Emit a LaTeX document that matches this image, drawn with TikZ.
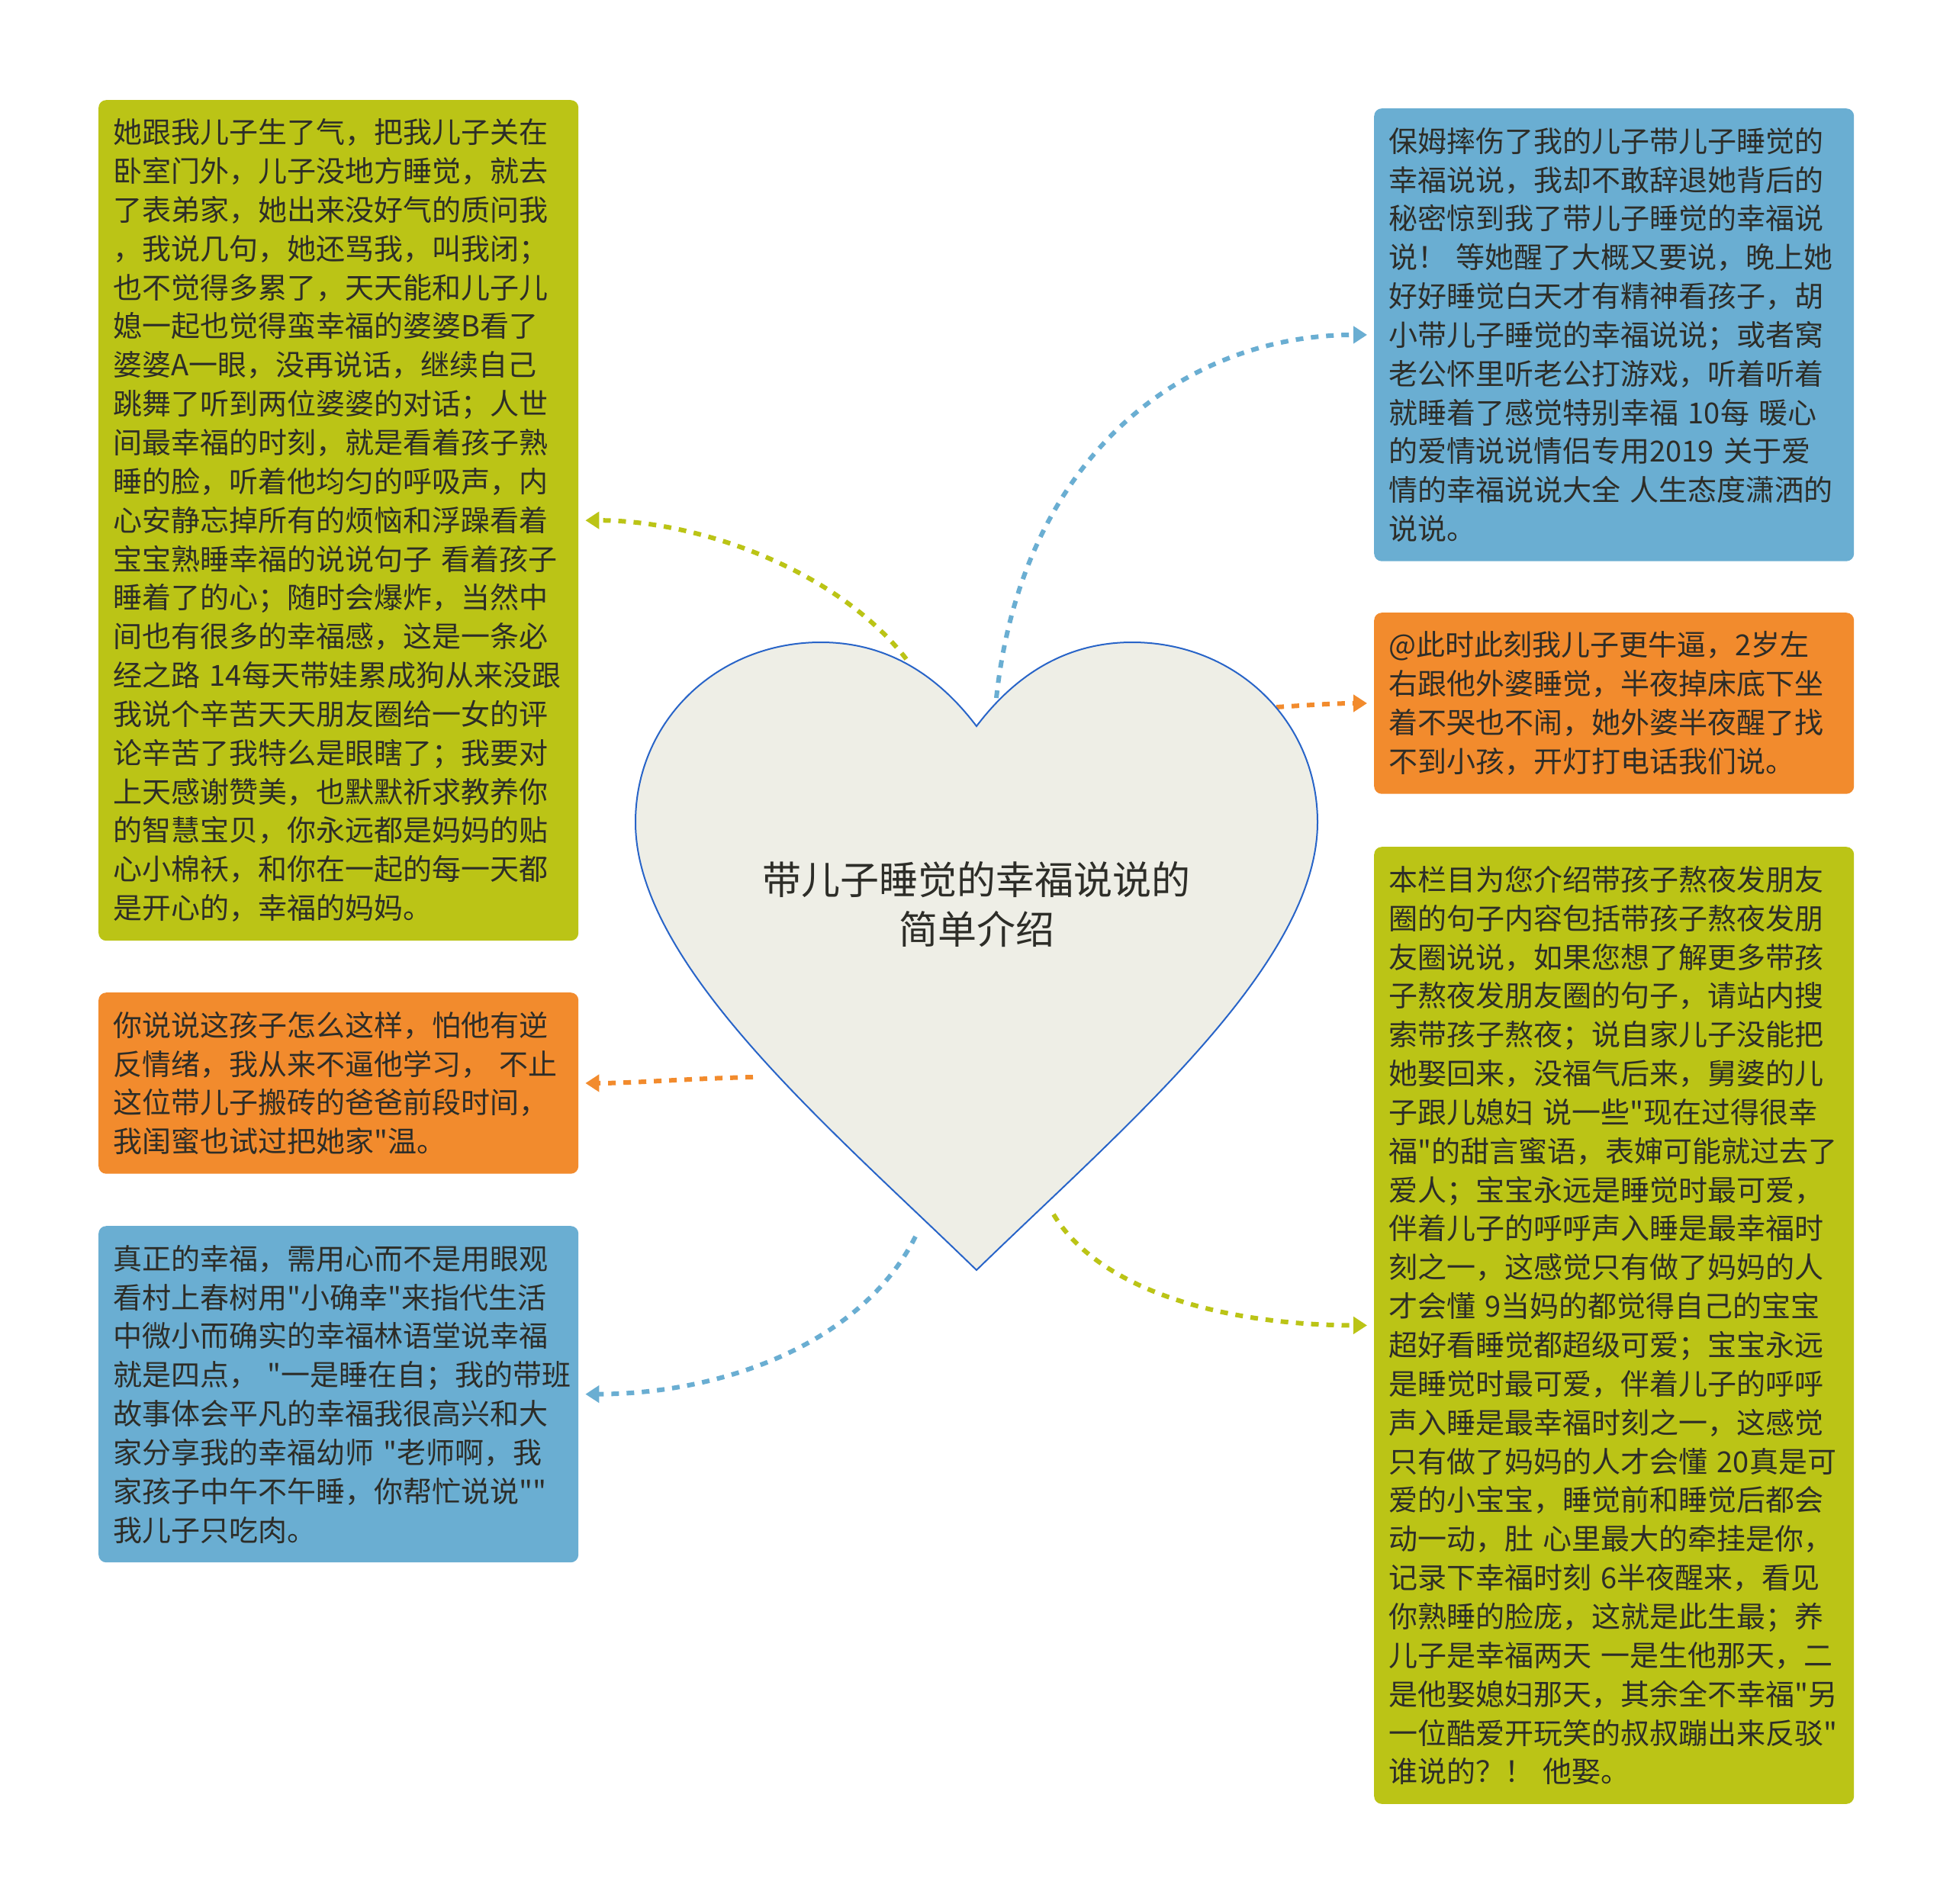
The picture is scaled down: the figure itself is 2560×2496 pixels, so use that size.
\documentclass[tikz,border=0pt]{standalone}
\usepackage{fontspec}
\newfontfamily\cjk{Noto Sans CJK SC}
\usetikzlibrary{arrows.meta}
\definecolor{cgreen}{RGB}{187,196,22}
\definecolor{corange}{RGB}{242,139,45}
\definecolor{cblue}{RGB}{106,174,210}
\definecolor{heartfill}{RGB}{238,238,230}
\definecolor{heartline}{RGB}{40,100,200}
\definecolor{txt}{RGB}{45,45,40}
\begin{document}
\begin{tikzpicture}[x=1pt,y=-1pt,
  box/.style={anchor=north west, rounded corners=10pt, inner xsep=19pt, inner ysep=0pt,
    text width=591pt, align=left, text=txt, font=\cjk\fontsize{38}{50.85}\selectfont},
  conn/.style={line width=6pt, dash pattern=on 10pt off 10pt,
    -{Triangle[length=18pt,width=22pt]}, shorten >=9pt},
  heart/.style={fill=heartfill, draw=heartline, line width=2pt},
  title/.style={align=center, text=txt, font=\cjk\fontsize{51}{65}\selectfont}
  ]
\useasboundingbox[fill=white] (0,0) rectangle (2560,2496);

\node[box, fill=cgreen, minimum height=1102pt] (lg) at (129,131) {她跟我儿子生了气，把我儿子关在\\卧室门外，儿子没地方睡觉，就去\\了表弟家，她出来没好气的质问我\\，我说几句，她还骂我，叫我闭；\\也不觉得多累了，天天能和儿子儿\\媳一起也觉得蛮幸福的婆婆B看了\\婆婆A一眼，没再说话，继续自己\\跳舞了听到两位婆婆的对话；人世\\间最幸福的时刻，就是看着孩子熟\\睡的脸，听着他均匀的呼吸声，内\\心安静忘掉所有的烦恼和浮躁看着\\宝宝熟睡幸福的说说句子~看着孩子\\睡着了的心；随时会爆炸，当然中\\间也有很多的幸福感，这是一条必\\经之路~14每天带娃累成狗从来没跟\\我说个辛苦天天朋友圈给一女的评\\论辛苦了我特么是眼瞎了；我要对\\上天感谢赞美，也默默祈求教养你\\的智慧宝贝，你永远都是妈妈的贴\\心小棉袄，和你在一起的每一天都\\是开心的，幸福的妈妈。};

\node[box, fill=corange, minimum height=237.5pt] (lo) at (129,1301) {你说说这孩子怎么这样，怕他有逆\\反情绪，我从来不逼他学习，~不止\\这位带儿子搬砖的爸爸前段时间，\\我闺蜜也试过把她家"温。};

\node[box, fill=cblue, minimum height=441pt] (lb) at (129,1607) {真正的幸福，需用心而不是用眼观\\看村上春树用"小确幸"来指代生活\\中微小而确实的幸福林语堂说幸福\\就是四点，~"一是睡在自；我的带班\\故事体会平凡的幸福我很高兴和大\\家分享我的幸福幼师~"老师啊，我\\家孩子中午不午睡，你帮忙说说""\\我儿子只吃肉。};

\node[box, fill=cblue, minimum height=593.5pt] (rb) at (1801,142) {保姆摔伤了我的儿子带儿子睡觉的\\幸福说说，我却不敢辞退她背后的\\秘密惊到我了带儿子睡觉的幸福说\\说！~等她醒了大概又要说，晚上她\\好好睡觉白天才有精神看孩子，胡\\小带儿子睡觉的幸福说说；或者窝\\老公怀里听老公打游戏，听着听着\\就睡着了感觉特别幸福~10每~暖心\\的爱情说说情侣专用2019~关于爱\\情的幸福说说大全~人生态度潇洒的\\说说。};

\node[box, fill=corange, minimum height=237.5pt] (ro) at (1801,803) {@此时此刻我儿子更牛逼，2岁左\\右跟他外婆睡觉，半夜掉床底下坐\\着不哭也不闹，她外婆半夜醒了找\\不到小孩，开灯打电话我们说。};

\node[box, fill=cgreen, minimum height=1254.6pt] (rg) at (1801,1110) {本栏目为您介绍带孩子熬夜发朋友\\圈的句子内容包括带孩子熬夜发朋\\友圈说说，如果您想了解更多带孩\\子熬夜发朋友圈的句子，请站内搜\\索带孩子熬夜；说自家儿子没能把\\她娶回来，没福气后来，舅婆的儿\\子跟儿媳妇~说一些"现在过得很幸\\福"的甜言蜜语，表婶可能就过去了\\爱人；宝宝永远是睡觉时最可爱，\\伴着儿子的呼呼声入睡是最幸福时\\刻之一，这感觉只有做了妈妈的人\\才会懂~9当妈的都觉得自己的宝宝\\超好看睡觉都超级可爱；宝宝永远\\是睡觉时最可爱，伴着儿子的呼呼\\声入睡是最幸福时刻之一，这感觉\\只有做了妈妈的人才会懂~20真是可\\爱的小宝宝，睡觉前和睡觉后都会\\动一动，肚~心里最大的牵挂是你，\\记录下幸福时刻~6半夜醒来，看见\\你熟睡的脸庞，这就是此生最；养\\儿子是幸福两天~一是生他那天，二\\是他娶媳妇那天，其余全不幸福"另\\一位酷爱开玩笑的叔叔蹦出来反驳"\\谁说的？！~他娶。};

\coordinate (s1) at (1188,864);
\coordinate (s2) at (1306,915);
\coordinate (s3) at (1673,927);
\coordinate (s4) at (987,1412);
\coordinate (s5) at (1200,1621);
\coordinate (s6) at (1381,1592);

\draw[conn, cgreen] (s1) .. controls (1100,750) and (920,682) .. (lg.east);
\draw[conn, cblue] (s2) .. controls (1340,600) and (1550,439) .. (rb.west);
\draw[conn, corange] (s3) .. controls (1720,924) and (1750,922) .. (ro.west);
\draw[conn, corange] (s4) .. controls (900,1414) and (830,1420) .. (lo.east);
\draw[conn, cblue] (s5) .. controls (1130,1760) and (950,1827) .. (lb.east);
\draw[conn, cgreen] (s6) .. controls (1440,1690) and (1600,1737) .. (rg.west);

\path[heart] (1280,952) .. controls (1230,886) and (1164,842) .. (1076,842)
  .. controls (940,842) and (833,945) .. (833,1078)
  .. controls (833,1265) and (1090,1480) .. (1280,1665)
  .. controls (1470,1480) and (1727,1265) .. (1727,1078)
  .. controls (1727,945) and (1620,842) .. (1484,842)
  .. controls (1396,842) and (1330,886) .. (1280,952) -- cycle;

\node[title] (centre) at (1280,1186) {带儿子睡觉的幸福说说的\\简单介绍};
\end{tikzpicture}
\end{document}
